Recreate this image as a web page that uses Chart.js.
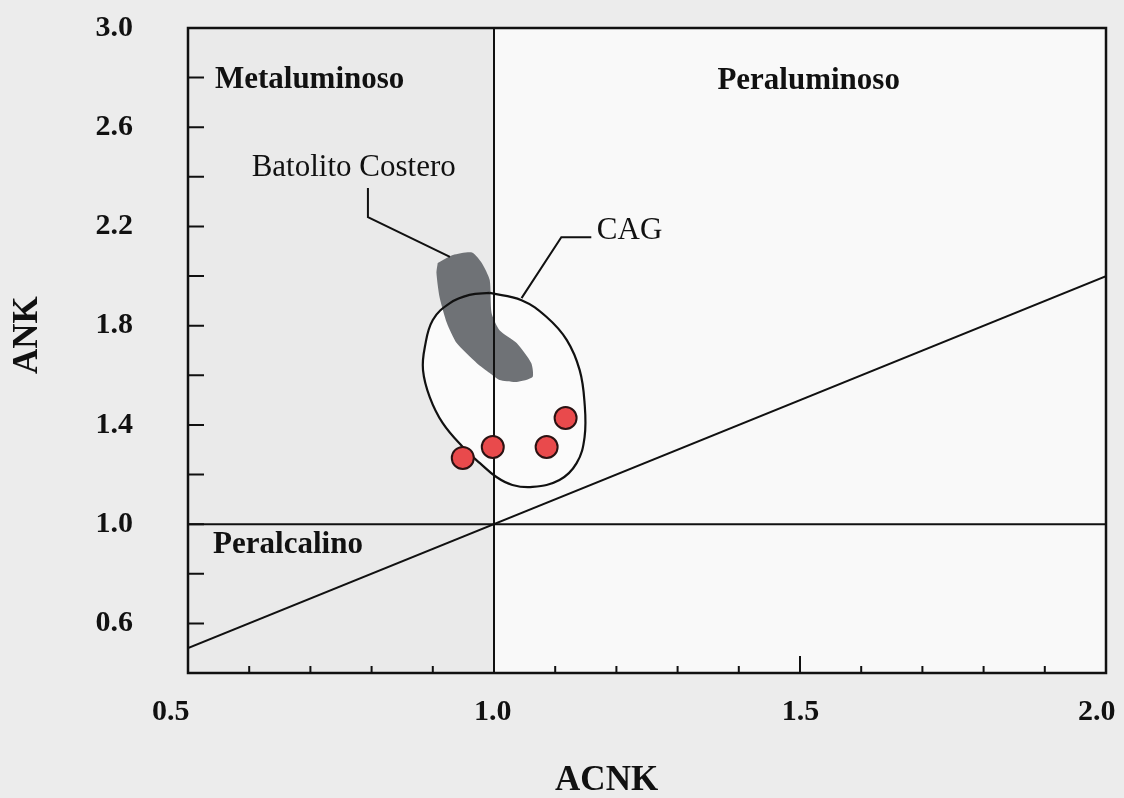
<!DOCTYPE html>
<html>
<head>
<meta charset="utf-8">
<script src="https://cdn.jsdelivr.net/npm/chart.js@4.4.1/dist/chart.umd.min.js"></script>
<style>
  html, body { margin: 0; padding: 0; background: #ececec; }
  #wrap { width: 1124px; height: 798px; }
</style>
</head>
<body>
<div id="wrap"><canvas id="chart" width="1124" height="798"></canvas></div>
<script>
// ACNK / ANK values
const sampleAcnk = [0.949, 0.998, 1.086, 1.117];
const sampleAnk  = [1.267, 1.311, 1.311, 1.428];

// Batolito Costero field (closed outline)
const batolitoAcnk = [0.908, 0.933, 0.964, 0.980, 0.993, 0.996, 1.009, 1.037, 1.061, 1.063, 1.037, 1.009, 0.993, 0.972, 0.939, 0.923, 0.911, 0.906, 0.908];
const batolitoAnk  = [2.053, 2.085, 2.095, 2.053, 1.984, 1.851, 1.782, 1.730, 1.649, 1.593, 1.573, 1.581, 1.609, 1.649, 1.730, 1.811, 1.916, 2.012, 2.053];

// CAG field (closed outline)
const cagAcnk = [0.993, 1.045, 1.086, 1.119, 1.140, 1.148, 1.148, 1.135, 1.107, 1.063, 1.030, 1.004, 0.977, 0.949, 0.916, 0.895, 0.884, 0.887, 0.900, 0.928, 0.960, 0.993];
const cagAnk  = [1.932, 1.903, 1.835, 1.742, 1.621, 1.488, 1.351, 1.246, 1.178, 1.150, 1.158, 1.190, 1.246, 1.311, 1.408, 1.512, 1.621, 1.714, 1.823, 1.891, 1.924, 1.932];

// leader lines
const batolitoLeaderAcnk = [0.794, 0.794, 0.928];
const batolitoLeaderAnk  = [2.355, 2.238, 2.077];
const cagLeaderAcnk = [1.159, 1.110, 1.045];
const cagLeaderAnk  = [2.157, 2.157, 1.911];

// reference lines
const acnkOneLineX = [1.0, 1.0];
const acnkOneLineY = [0.4, 3.0];
const ankOneLineX  = [0.5, 2.0];
const ankOneLineY  = [1.0, 1.0];
const equalLineX   = [0.5, 2.0];
const equalLineY   = [0.5, 2.0];

// axes
const xTickLabels = [0.5, 1.0, 1.5, 2.0];
const xTickLabelAt = [0.472, 0.998, 1.501, 1.985];   // end labels sit slightly inward
const yTickLabels = [0.6, 1.0, 1.4, 1.8, 2.2, 2.6, 3.0];
const xMinorTicks = [0.6, 0.7, 0.8, 0.9, 1.1, 1.2, 1.3, 1.4, 1.6, 1.7, 1.8, 1.9];
const xMajorTicks = [1.5];
const yTicks = [0.6, 0.8, 1.0, 1.2, 1.4, 1.6, 1.8, 2.0, 2.2, 2.4, 2.6, 2.8];

// field names, placed at ACNK / ANK coordinates
const fieldNames  = ["Metaluminoso", "Peraluminoso", "Peralcalino", "Batolito Costero", "CAG"];
const fieldNameX  = [0.544, 1.365, 0.541, 0.604, 1.168];
const fieldNameY  = [2.790, 2.786, 0.916, 2.435, 2.181];
const fieldBold   = [true, true, true, false, false];

const SERIF = "'Liberation Serif', 'Times New Roman', serif";

const pts = (xs, ys) => xs.map((x, i) => ({ x, y: ys[i] }));
const isIn = (list, v) => list.some(t => Math.abs(t - v) < 1e-6);

function lineSet(xs, ys, extra) {
  return Object.assign({
    data: pts(xs, ys),
    showLine: true,
    borderColor: "#111",
    borderWidth: 2,
    pointRadius: 0,
    fill: false,
    order: 1
  }, extra || {});
}

// no label overflow padding, the plot box is fixed by layout padding + afterFit
function fixBox(s, key, size) {
  s[key] = size;
  s.paddingTop = 0; s.paddingBottom = 0; s.paddingLeft = 0; s.paddingRight = 0;
}

const decor = {
  id: "decor",
  beforeDatasetsDraw(chart) {
    const { ctx, chartArea: a, scales: { x } } = chart;
    const mid = x.getPixelForValue(1.0);
    ctx.save();
    ctx.fillStyle = "#eaeaea";
    ctx.fillRect(a.left, a.top, mid - a.left, a.bottom - a.top);
    ctx.fillStyle = "#f9f9f9";
    ctx.fillRect(mid, a.top, a.right - mid, a.bottom - a.top);
    ctx.restore();
  },
  afterDatasetsDraw(chart) {
    const { ctx, chartArea: a, scales: { x, y } } = chart;
    ctx.save();
    ctx.strokeStyle = "#111";
    ctx.lineWidth = 2.5;
    ctx.strokeRect(a.left, a.top, a.right - a.left, a.bottom - a.top);

    // inward tick marks
    ctx.lineWidth = 2;
    ctx.beginPath();
    xMinorTicks.forEach(v => {
      const px = x.getPixelForValue(v);
      ctx.moveTo(px, a.bottom); ctx.lineTo(px, a.bottom - 7);
    });
    xMajorTicks.forEach(v => {
      const px = x.getPixelForValue(v);
      ctx.moveTo(px, a.bottom); ctx.lineTo(px, a.bottom - 17);
    });
    yTicks.forEach(v => {
      const py = y.getPixelForValue(v);
      ctx.moveTo(a.left, py); ctx.lineTo(a.left + 16, py);
    });
    ctx.stroke();

    ctx.fillStyle = "#111";
    ctx.textBaseline = "middle";

    // x tick labels
    ctx.font = "bold 30px " + SERIF;
    ctx.textAlign = "center";
    xTickLabels.forEach((v, i) => {
      ctx.fillText(v.toFixed(1), x.getPixelForValue(xTickLabelAt[i]), a.bottom + 39);
    });

    // field names
    ctx.textAlign = "left";
    fieldNames.forEach((t, i) => {
      ctx.font = (fieldBold[i] ? "bold " : "") + "31px " + SERIF;
      ctx.fillText(t, x.getPixelForValue(fieldNameX[i]), y.getPixelForValue(fieldNameY[i]));
    });

    // axis titles
    ctx.font = "bold 35px " + SERIF;
    ctx.textAlign = "center";
    ctx.fillText("ACNK", x.getPixelForValue(1.184), 781);
    ctx.translate(28, y.getPixelForValue(1.762));
    ctx.rotate(-Math.PI / 2);
    ctx.fillText("ANK", 0, 0);
    ctx.restore();
  }
};

new Chart(document.getElementById("chart"), {
  type: "scatter",
  data: {
    datasets: [
      {
        label: "Muestras",
        data: pts(sampleAcnk, sampleAnk),
        pointRadius: 11,
        pointHoverRadius: 11,
        backgroundColor: "#e94a4c",
        borderColor: "#2a1212",
        borderWidth: 2,
        order: 0
      },
      lineSet(cagAcnk, cagAnk, { label: "CAG", tension: 0.4, borderWidth: 2.2 }),
      lineSet(acnkOneLineX, acnkOneLineY, { label: "ACNK=1" }),
      lineSet(ankOneLineX, ankOneLineY, { label: "ANK=1" }),
      lineSet(equalLineX, equalLineY, { label: "ACNK=ANK" }),
      lineSet(batolitoLeaderAcnk, batolitoLeaderAnk, { label: "leader1" }),
      lineSet(cagLeaderAcnk, cagLeaderAnk, { label: "leader2" }),
      lineSet(batolitoAcnk, batolitoAnk, {
        label: "Batolito Costero",
        borderWidth: 0,
        borderColor: "rgba(0,0,0,0)",
        backgroundColor: "#6f7276",
        fill: "shape",
        tension: 0.2,
        order: 2
      }),
      lineSet(cagAcnk, cagAnk, {
        label: "CAG fill",
        borderWidth: 0,
        borderColor: "rgba(0,0,0,0)",
        backgroundColor: "#fbfbfb",
        fill: "shape",
        tension: 0.4,
        order: 3
      })
    ]
  },
  options: {
    responsive: false,
    animation: false,
    events: [],
    layout: { padding: { left: 0, top: 28, right: 18, bottom: 0 } },
    plugins: { legend: { display: false }, tooltip: { enabled: false } },
    scales: {
      x: {
        type: "linear",
        min: 0.5,
        max: 2.0,
        grid: { display: false, drawTicks: false },
        border: { display: false },
        ticks: {
          stepSize: 0.1,
          autoSkip: false,
          maxRotation: 0,
          callback: () => ""   // drawn by the decor plugin
        },
        afterFit: s => fixBox(s, "height", 125)
      },
      y: {
        type: "linear",
        min: 0.4,
        max: 3.0,
        grid: { display: false, drawTicks: false },
        border: { display: false },
        ticks: {
          stepSize: 0.2,
          autoSkip: false,
          padding: 55,
          color: "#111",
          font: { family: SERIF, size: 30, weight: "bold" },
          callback: v => isIn(yTickLabels, v) ? v.toFixed(1) : ""
        },
        afterFit: s => fixBox(s, "width", 188)
      }
    }
  },
  plugins: [decor]
});
</script>
</body>
</html>
